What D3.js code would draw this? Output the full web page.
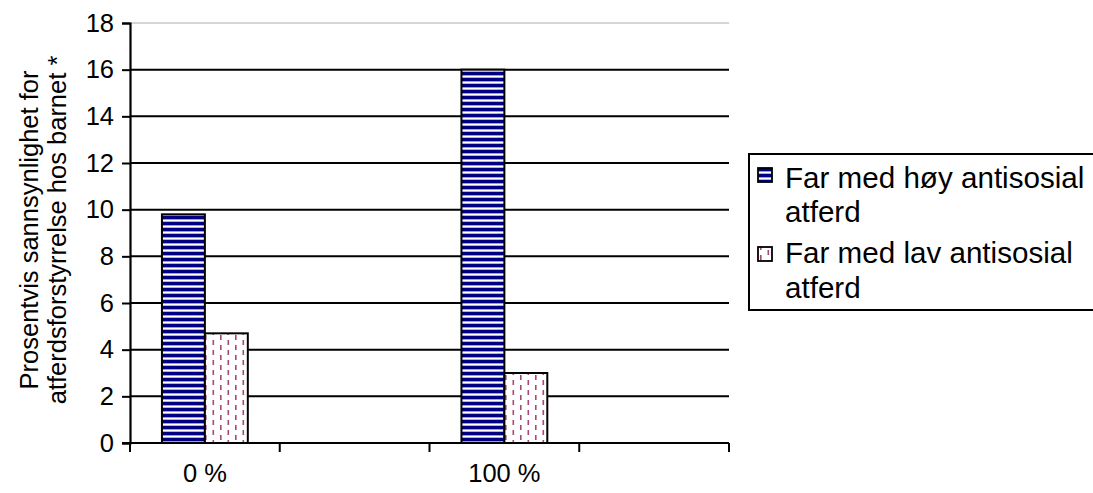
<!DOCTYPE html>
<html>
<head>
<meta charset="utf-8">
<script src="https://cdn.jsdelivr.net/npm/d3@7"></script>
<style>
  html, body { margin: 0; padding: 0; background: #fff; }
  svg { display: block; font-family: "Liberation Sans", Arial, sans-serif; }
</style>
</head>
<body>
<svg id="chart" width="1093" height="493"></svg>
<script>
// Category slots on the x axis (every other slot is labelled)
const categoryLabels = ["0 %", "", "100 %", ""];
const seriesNames = ["Far med høy antisosial atferd", "Far med lav antisosial atferd"];
const highValues = [9.8, null, 16.0, null];
const lowValues = [4.7, null, 3.0, null];
const yTicks = [0, 2, 4, 6, 8, 10, 12, 14, 16, 18];
const yTitleLines = ["Prosentvis sannsynlighet for", "atferdsforstyrrelse hos barnet *"];
const legendLines = [["Far med høy antisosial", "atferd"], ["Far med lav antisosial", "atferd"]];

const svg = d3.select("#chart");
const plot = { left: 130, right: 729, top: 23, bottom: 443 };
const FONT = "Liberation Sans, Arial, sans-serif";

// Fill patterns
const defs = svg.append("defs");
const stripes = defs.append("pattern")
  .attr("id", "stripes").attr("patternUnits", "userSpaceOnUse")
  .attr("width", 8).attr("height", 6);
stripes.append("rect").attr("width", 8).attr("height", 6).attr("fill", "#ffffff");
stripes.append("rect").attr("y", 0).attr("width", 8).attr("height", 3.2).attr("fill", "#000080");
stripes.append("rect").attr("y", 3.2).attr("width", 8).attr("height", 0.6).attr("fill", "#8080c0");
stripes.append("rect").attr("y", 5.4).attr("width", 8).attr("height", 0.6).attr("fill", "#8080c0");

const dashes = defs.append("pattern")
  .attr("id", "dashes").attr("patternUnits", "userSpaceOnUse")
  .attr("width", 15).attr("height", 10);
dashes.append("rect").attr("width", 15).attr("height", 10).attr("fill", "#ffffff");
dashes.append("rect").attr("x", 2.5).attr("y", 0).attr("width", 1.6).attr("height", 5).attr("fill", "#a8487a");
dashes.append("rect").attr("x", 10).attr("y", 5).attr("width", 1.6).attr("height", 5).attr("fill", "#a8487a");

const fills = ["url(#stripes)", "url(#dashes)"];

// Scales
const x0 = d3.scaleBand().domain(d3.range(categoryLabels.length))
  .range([plot.left, plot.right]).paddingInner(0).paddingOuter(0);
const x1 = d3.scaleBand().domain([0, 1]).range([0, x0.bandwidth()])
  .paddingInner(0).paddingOuter(0.744);
const y = d3.scaleLinear().domain([0, 18]).range([plot.bottom, plot.top]);

// Gridlines
svg.append("g").selectAll("line")
  .data(yTicks.filter(t => t > 0))
  .join("line")
  .attr("x1", plot.left).attr("x2", plot.right)
  .attr("y1", d => y(d)).attr("y2", d => y(d))
  .attr("stroke", d => d === 18 ? "#c8c8c8" : "#000")
  .attr("stroke-width", d => d === 18 ? 1.5 : 2);

// Bars
const seriesValues = [highValues, lowValues];
const barData = [];
seriesValues.forEach((vals, s) => vals.forEach((v, i) => {
  if (v != null) barData.push({ s, i, v });
}));
svg.append("g").selectAll("rect")
  .data(barData)
  .join("rect")
  .attr("x", d => x0(d.i) + x1(d.s))
  .attr("y", d => y(d.v))
  .attr("width", x1.bandwidth())
  .attr("height", d => y(0) - y(d.v))
  .attr("fill", d => fills[d.s])
  .attr("stroke", "#000")
  .attr("stroke-width", 2);

// Y axis
const yAxis = svg.append("g")
  .attr("transform", `translate(${plot.left},0)`)
  .call(d3.axisLeft(y).tickValues(yTicks).tickSize(8).tickPadding(8).tickFormat(d3.format("d")));
yAxis.select(".domain").attr("stroke", "#000").attr("stroke-width", 2.2);
yAxis.selectAll(".tick line").attr("stroke", "#000").attr("stroke-width", 2);
yAxis.selectAll(".tick text").attr("font-size", 25.5).attr("fill", "#000").attr("font-family", FONT);

// X axis: baseline, boundary ticks, centred labels
const xAxis = svg.append("g").attr("transform", `translate(0,${plot.bottom})`);
xAxis.append("line").attr("x1", plot.left - 8).attr("x2", plot.right)
  .attr("stroke", "#000").attr("stroke-width", 2.2);
const bounds = d3.range(categoryLabels.length + 1).map(i => plot.left + i * x0.step());
xAxis.selectAll(".bt").data(bounds).join("line").attr("class", "bt")
  .attr("x1", d => d).attr("x2", d => d).attr("y1", 0).attr("y2", 9)
  .attr("stroke", "#000").attr("stroke-width", 2);
xAxis.call(g => g.append("g")
  .call(d3.axisBottom(x0).tickSize(0).tickPadding(0).tickFormat(i => categoryLabels[i]))
  .call(a => a.select(".domain").remove())
  .call(a => a.selectAll("text").attr("font-size", 25.5).attr("fill", "#000")
    .attr("font-family", FONT).attr("dy", null).attr("y", 39)));

// Y axis title
const yt = svg.append("text")
  .attr("transform", "translate(0,230) rotate(-90)")
  .attr("text-anchor", "middle").attr("font-size", 25.5).attr("fill", "#000");
yTitleLines.forEach((line, k) => {
  yt.append("tspan").attr("x", 0).attr("y", 38 + k * 28).text(line);
});

// Legend
const lg = svg.append("g");
lg.append("rect").attr("x", 749).attr("y", 154).attr("width", 360).attr("height", 156)
  .attr("fill", "#fff").attr("stroke", "#000").attr("stroke-width", 2);
const entryTop = [168, 247];
const baselines = [[188, 222], [263, 298]];
seriesNames.forEach((name, s) => {
  lg.append("rect").attr("x", 758).attr("y", entryTop[s]).attr("width", 14).attr("height", 14)
    .attr("fill", fills[s]).attr("stroke", "#000").attr("stroke-width", 1.8);
  legendLines[s].forEach((line, k) => {
    lg.append("text").attr("x", 785).attr("y", baselines[s][k])
      .attr("font-size", 29.6).attr("fill", "#000").text(line);
  });
});
</script>
</body>
</html>
